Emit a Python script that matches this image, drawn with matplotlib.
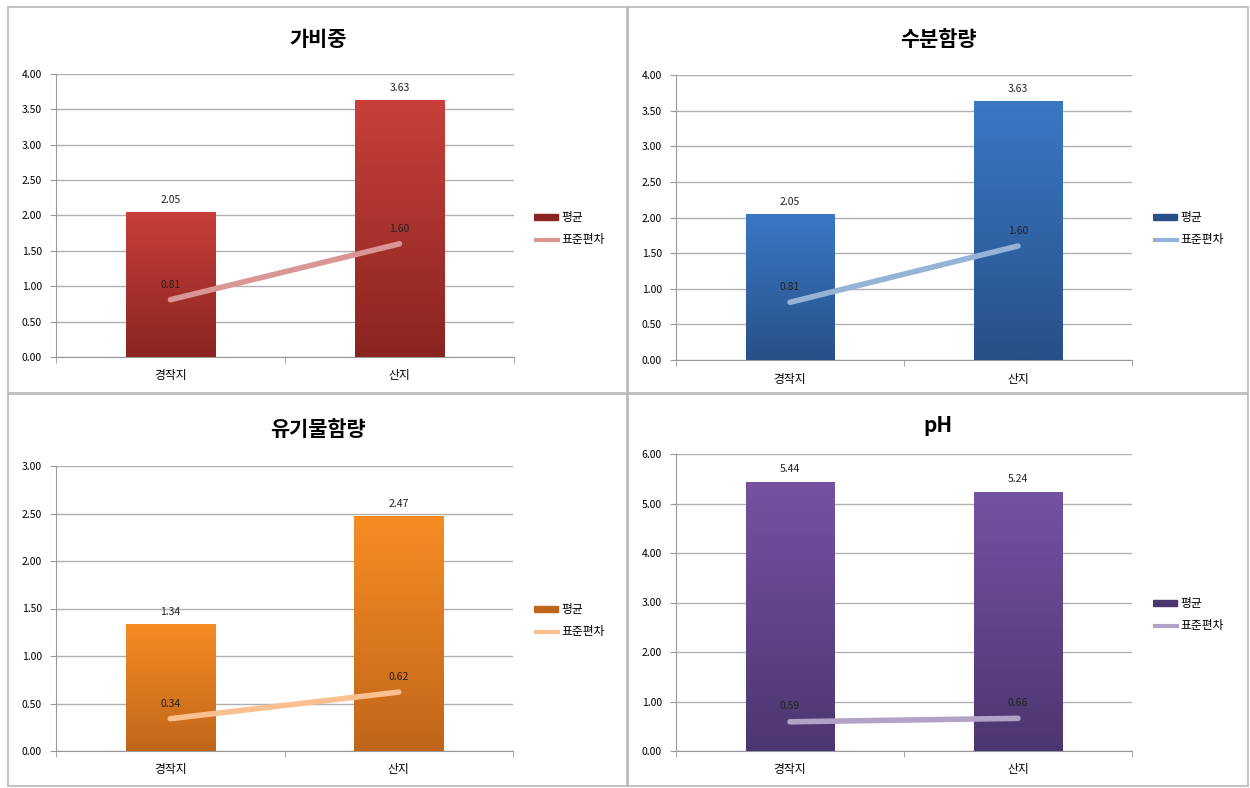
import matplotlib
matplotlib.use('Agg')
import matplotlib.pyplot as plt
import numpy as np
from matplotlib.patches import Rectangle
from matplotlib.colors import LinearSegmentedColormap

plt.rcParams['font.family'] = ['Noto Sans CJK KR', 'DejaVu Sans']

categories = ['경작지', '산지']
titles = ['가비중', '수분함량', '유기물함량', 'pH']
mean_bulk = [2.05, 3.63]
sd_bulk = [0.81, 1.60]
mean_water = [2.05, 3.63]
sd_water = [0.81, 1.60]
mean_organic = [1.34, 2.47]
sd_organic = [0.34, 0.62]
mean_ph = [5.44, 5.24]
sd_ph = [0.59, 0.66]
legend_labels = ['평균', '표준편차']

W, H = 1250, 788
fig = plt.figure(figsize=(W / 100, H / 100), dpi=100)


def px_rect(x0, y0, x1, y1):
    return [x0 / W, 1 - y1 / H, (x1 - x0) / W, (y1 - y0) / H]


# panel borders
for (x0, y0, x1, y1) in [(8, 7, 627, 393), (628, 7, 1248, 393),
                         (8, 394, 627, 786), (628, 394, 1248, 786)]:
    fig.patches.append(Rectangle((x0 / W, 1 - y1 / H), (x1 - x0) / W, (y1 - y0) / H,
                                 transform=fig.transFigure, fill=False,
                                 edgecolor='#b8b8b8', linewidth=1.2))

panels = [
    (titles[0], mean_bulk, sd_bulk, 4.0, 0.5, ('#c8403a', '#8a2420'), '#d99694',
     (56, 74, 514, 357), (318, 40), (534, 217)),
    (titles[1], mean_water, sd_water, 4.0, 0.5, ('#3a78c4', '#285088'), '#95b3d7',
     (676, 75, 1132, 360), (938, 40), (1153, 217)),
    (titles[2], mean_organic, sd_organic, 3.0, 0.5, ('#f78c24', '#c0661a'), '#fac090',
     (56, 466, 513, 751), (318, 429), (534, 609)),
    (titles[3], mean_ph, sd_ph, 6.0, 1.0, ('#7652a2', '#4c3670'), '#b3a2c7',
     (676, 454, 1132, 751), (938, 426), (1153, 603)),
]

for title, means, sds, ymax, step, (ctop, cbot), lcol, (ax0, ay0, ax1, ay1), (tx, ty), (lx, ly) in panels:
    ax = fig.add_axes(px_rect(ax0, ay0, ax1, ay1))
    x = np.arange(len(categories))
    bars = ax.bar(x, means, width=0.39, color=ctop, zorder=2)
    cmap = LinearSegmentedColormap.from_list('g', [cbot, ctop])
    grad = np.linspace(0, 1, 256).reshape(-1, 1)
    for b, m in zip(bars, means):
        im = ax.imshow(grad, extent=[b.get_x(), b.get_x() + b.get_width(), 0, m],
                       origin='lower', cmap=cmap, aspect='auto', zorder=3)
        im.set_clip_path(b)
        ax.text(b.get_x() + b.get_width() / 2, m + ymax * 0.025, '%.2f' % m,
                ha='center', va='bottom', fontsize=7.5, color='#222222', zorder=5)
    ax.plot(x, sds, color=lcol, linewidth=4, solid_capstyle='round', zorder=4)
    for xi, s in zip(x, sds):
        ax.text(xi, s + ymax * 0.035, '%.2f' % s, ha='center', va='bottom',
                fontsize=7.5, color='#222222', zorder=5)

    ax.set_xlim(-0.5, 1.5)
    ax.set_ylim(0, ymax)
    ax.set_yticks(np.arange(0, ymax + step / 2, step))
    ax.set_yticklabels(['%.2f' % v for v in np.arange(0, ymax + step / 2, step)], fontsize=7.5)
    ax.set_xticks(x)
    ax.set_xticklabels(categories, fontsize=8.5)
    ax.set_xticks([-0.5, 0.5, 1.5], minor=True)
    ax.tick_params(axis='x', which='major', length=0, pad=9)
    ax.tick_params(axis='x', which='minor', length=4, color='#999999', direction='out')
    ax.tick_params(axis='y', length=4, color='#999999', pad=6)
    ax.yaxis.grid(True, color='#b0b0b0', linewidth=1, zorder=0)
    ax.set_axisbelow(True)
    for sp in ['top', 'right']:
        ax.spines[sp].set_visible(False)
    ax.spines['left'].set_color('#999999')
    ax.spines['bottom'].set_color('#999999')

    fig.text(tx / W, 1 - ty / H, title, ha='center', va='center',
             fontsize=15, fontweight='bold')

    # legend
    lax = fig.add_axes(px_rect(lx, ly - 12, lx + 90, ly + 36))
    lax.set_axis_off()
    lax.set_xlim(0, 90)
    lax.set_ylim(48, 0)
    lax.add_patch(Rectangle((0, 9), 24, 6, color=cbot))
    lax.plot([0, 24], [35, 35], color=lcol, linewidth=3)
    lax.text(27, 12, legend_labels[0], va='center', fontsize=8.5)
    lax.text(27, 35, legend_labels[1], va='center', fontsize=8.5)

plt.savefig('out.png', dpi=100)
